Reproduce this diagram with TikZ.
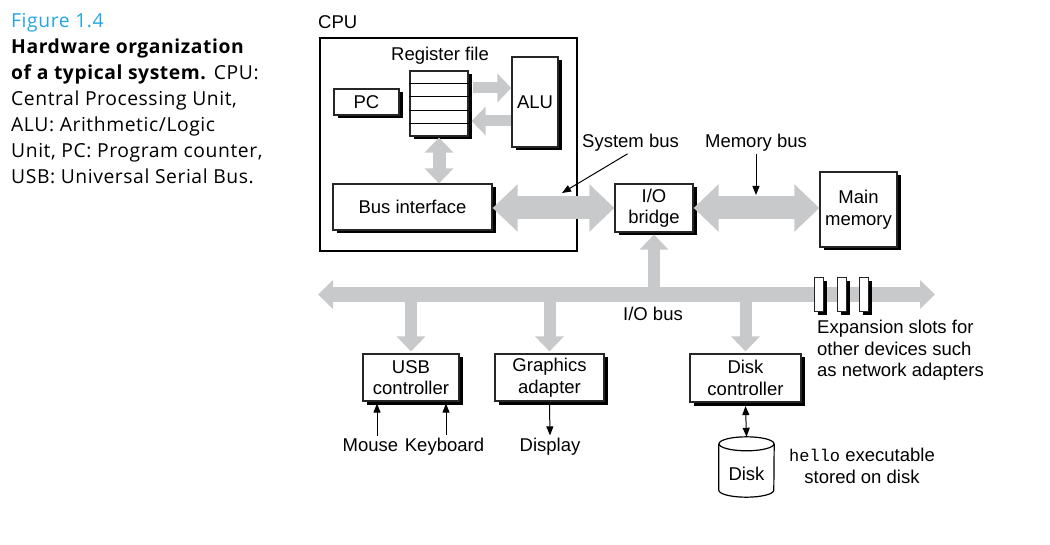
\documentclass[tikz,border=0pt]{standalone}
\usepackage{fontspec}
\setmainfont{Liberation Sans}
\setmonofont{Liberation Mono}
\newfontfamily\capfont[LetterSpace=3]{Open Sans}
\usetikzlibrary{arrows.meta,shadows,calc}

\definecolor{busgray}{RGB}{200,201,203}
\definecolor{figblue}{RGB}{38,166,224}

\tikzset{
    box/.style={draw=black!85, fill=white, line width=1.2pt, inner sep=0pt, align=center,
        drop shadow={shadow xshift=3.5pt, shadow yshift=-3.5pt, fill=black, opacity=1}},
    fatbus/.style={busgray, line width=23pt,
        {Triangle[length=25pt,width=46pt]}-{Triangle[length=25pt,width=46pt]}},
    iobus/.style={busgray, line width=15pt,
        {Triangle[length=15pt,width=28pt]}-{Triangle[length=15pt,width=28pt]}},
    tap/.style={busgray, line width=12pt, -{Triangle[length=15pt,width=28pt]}},
    dtap/.style={busgray, line width=13pt,
        {Triangle[length=15pt,width=28pt]}-{Triangle[length=15pt,width=28pt]}},
    ptip/.tip={Triangle[length=9pt,width=7pt]},
    ptr/.style={line width=1pt, -ptip},
    dptr/.style={line width=1pt, ptip-ptip},
    lbl/.style={inner sep=2pt, align=center},
}

\begin{document}
\begin{tikzpicture}[x=1pt, y=-1pt, font=\fontsize{18.5}{21.5}\selectfont]
    \useasboundingbox (0,0) rectangle (1050,545);

    % caption
    \node[anchor=north west, align=left, inner sep=0pt,
          font=\capfont\fontsize{19.3}{26}\selectfont] (caption) at (11,13)
        {\textcolor{figblue}{Figure 1.4}\\
         \textbf{Hardware organization}\\
         \textbf{of a typical system.} CPU:\\
         Central Processing Unit,\\
         ALU: Arithmetic/Logic\\
         Unit, PC: Program counter,\\
         USB: Universal Serial Bus.};

    % cpu
    \node[draw, line width=1.8pt, minimum width=257pt, minimum height=213pt] (cpu) at (448.5,144.5) {};
    \node[lbl, anchor=west] (cpulbl) at (316,22) {CPU};

    \node[box, minimum width=58pt, minimum height=65pt] (reg) at (439,103.5) {};
    \foreach \i in {1,...,4}
        \draw[line width=1pt] ($(reg.north west)!\i/5!(reg.south west)$) -- ($(reg.north east)!\i/5!(reg.south east)$);
    \node[lbl] (reglbl) at (440,56) {Register file};

    \node[box, minimum width=65pt, minimum height=26pt] (pc) at (366.5,102) {PC};
    \node[box, minimum width=46pt, minimum height=90pt] (alu) at (535,102) {ALU};
    \node[box, minimum width=159pt, minimum height=46pt] (busif) at (412.5,207) {Bus interface};

    \draw[busgray, line width=11pt, -{Triangle[length=14pt,width=28pt]}]
        ([xshift=4pt,yshift=15.5pt]reg.east) -- ([yshift=15.5pt]reg.east -| alu.west);
    \draw[busgray, line width=11pt, -{Triangle[length=14pt,width=28pt]}]
        ([yshift=-17.5pt]reg.east -| alu.west) -- ([xshift=3pt,yshift=-17.5pt]reg.east);
    \draw[dtap] ([yshift=-1pt]reg.south) -- (reg.south |- busif.north);

    % bridge and memory
    \node[box, minimum width=78pt, minimum height=48pt] (bridge) at (654,208) {I/O\\bridge};
    \node[box, minimum width=77pt, minimum height=75pt] (mem) at (858.5,209.5) {Main\\memory};

    \draw[fatbus] (busif.east |- bridge.west) -- (bridge.west);
    \draw[fatbus] (bridge.east) -- (bridge.east -| mem.west);

    \node[lbl, anchor=west] (syslbl) at (580,143) {System bus};
    \coordinate (systip) at (562,193);
    \draw[ptr] ([xshift=-3pt]syslbl.south) -- (systip);

    \node[lbl] (memlbl) at (756,143) {Memory bus};
    \coordinate (memtip) at (756,195);
    \draw[ptr] (memlbl.south) -- (memtip);

    % i/o bus
    \coordinate (busL) at (318,294.5);
    \coordinate (busR) at (935,294.5);
    \draw[iobus] (busL) -- (busR);
    \draw[tap] (bridge.south |- busL) -- ([yshift=-2pt]bridge.south);
    \node[lbl] (iolbl) at (653,314) {I/O bus};

    \node[box, minimum width=96pt, minimum height=47pt] (usb) at (411,377.5) {USB\\controller};
    \node[box, minimum width=109pt, minimum height=47pt] (gfx) at (549.5,377.5) {Graphics\\adapter};
    \node[box, minimum width=111pt, minimum height=48pt] (diskc) at (745.5,378) {Disk\\controller};

    \draw[tap] (usb.north |- busL) -- ([yshift=2pt]usb.north);
    \draw[tap] (gfx.north |- busL) -- ([yshift=2pt]gfx.north);
    \draw[tap] (diskc.north |- busL) -- ([yshift=2pt]diskc.north);

    % expansion slots
    \foreach \x/\n in {818.5/1, 842/2, 863.5/3}
        \node[box, line width=1pt, minimum width=9pt, minimum height=34pt] (slot\n) at (\x,295) {};
    \node[lbl, anchor=north west, align=left] (explbl) at (815,318)
        {Expansion slots for\\other devices such\\as network adapters};

    % devices
    \node[lbl, anchor=base] (mouse) at (370.5,451) {Mouse};
    \node[lbl, anchor=base] (keyb) at (444.5,451) {Keyboard};
    \node[lbl, anchor=base] (display) at (550,451) {Display};
    \draw[ptr] ([xshift=-34pt]usb.south |- mouse.north) -- ([xshift=-34pt,yshift=-2pt]usb.south);
    \draw[ptr] ([xshift=35pt]usb.south |- keyb.north) -- ([xshift=35pt,yshift=-2pt]usb.south);
    \draw[ptr] ([yshift=-3.5pt]gfx.south) -- (display.north);

    % disk
    \node[minimum width=55pt, minimum height=60pt, inner sep=0pt] (disk) at (746.5,467) {};
    \draw[line width=1.2pt, fill=white] ([yshift=-7pt]disk.north west) -- ([yshift=7pt]disk.south west)
        arc[start angle=180, end angle=360, x radius=27.5pt, y radius=7pt] -- ([yshift=-7pt]disk.north east);
    \draw[line width=1.2pt] ([yshift=-7pt]disk.north) ellipse [x radius=27.5pt, y radius=7pt];
    \node[lbl] (disklbl) at (746.5,474) {Disk};
    \draw[dptr] ([yshift=-3.5pt]diskc.south) -- (disk.north);

    \node[lbl] (hello) at (862,466) {{\fontsize{17}{21.5}\selectfont\texttt{hello}} executable\\stored on disk};
\end{tikzpicture}
\end{document}
